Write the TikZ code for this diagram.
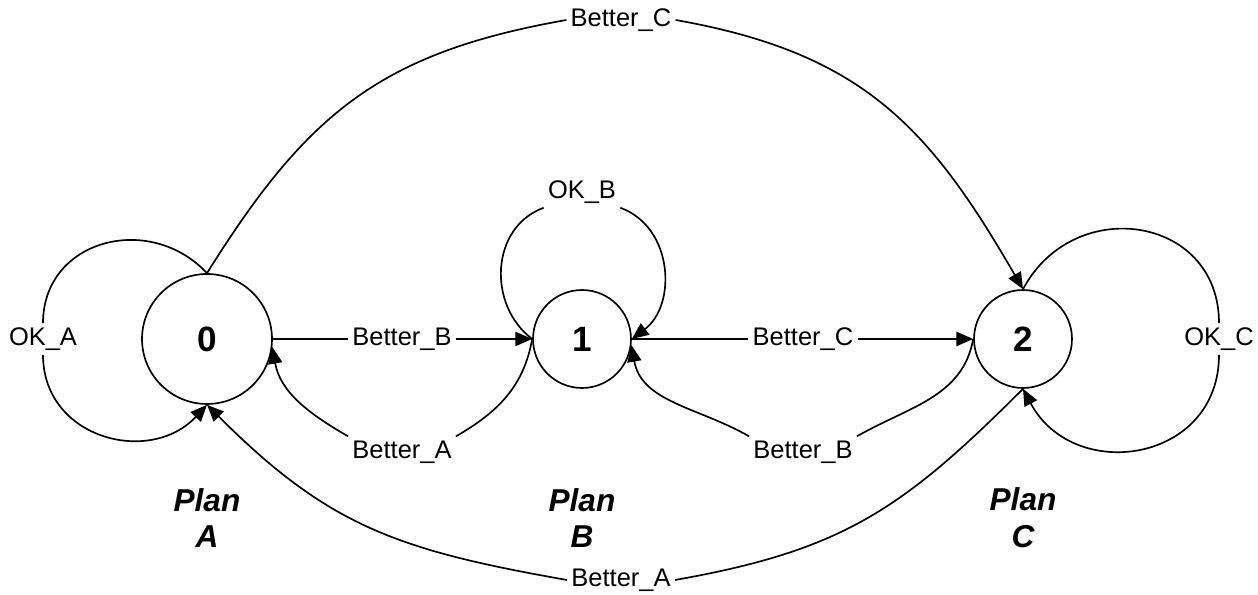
\documentclass[tikz,border=0pt]{standalone}
\usepackage{fontspec}
\setmainfont{Liberation Sans}
\usetikzlibrary{arrows.meta}

\begin{document}
\begin{tikzpicture}[
  x=0.02cm, y=0.02cm,
  line width=0.95pt,
  state/.style={draw, circle, inner sep=0pt, font=\fontsize{20}{22}\selectfont\bfseries},
  lbl/.style={inner sep=2pt, font=\fontsize{14.5}{17}\selectfont},
  plan/.style={align=center, font=\fontsize{18}{21}\selectfont\bfseries\itshape},
  arrow/.style={-{Triangle[length=9.5pt,width=8pt]}}
]
\useasboundingbox (0,0) rectangle (1258,595);

% states
\node[state, minimum size=2.6cm] (s0) at (207,256) {0};
\node[state, minimum size=1.96cm] (s1) at (582,256) {1};
\node[state, minimum size=1.96cm] (s2) at (1023,256) {2};

\node[plan] (planA) at (207,77) {Plan\\A};
\node[plan] (planB) at (582,77) {Plan\\B};
\node[plan] (planC) at (1023,77) {Plan\\C};

% transition labels
\node[lbl] (okA) at (43,256) {OK\_A};
\node[lbl] (okB) at (582,403) {OK\_B};
\node[lbl] (okC) at (1219,256) {OK\_C};
\node[lbl] (b01) at (402,256) {Better\_B};
\node[lbl] (b12) at (803,256) {Better\_C};
\node[lbl] (b10) at (402,143) {Better\_A};
\node[lbl] (b21) at (803,143) {Better\_B};
\node[lbl] (b02) at (621,575) {Better\_C};
\node[lbl] (b20) at (621,15) {Better\_A};

% self loops
\draw[arrow] (s0.north) to[out=133,in=90,looseness=1.25] (okA.north)
  (okA.south) to[out=270,in=227,looseness=1.25] (s0.south);
\draw[arrow] (s1.west) to[out=143,in=200,looseness=1.1] (okB.south west)
  (okB.south east) to[out=-20,in=37,looseness=1.1] (s1.east);
\draw[arrow] (s2.north) to[out=62,in=90,looseness=1.39] (okC.north)
  (okC.south) to[out=270,in=298,looseness=1.39] (s2.south);

% forward
\draw[arrow] (s0.east) -- (b01.west) (b01.east) -- (s1.west);
\draw[arrow] (s1.east) -- (b12.west) (b12.east) -- (s2.west);
\draw[arrow] (s0.north) to[out=58,in=190,looseness=1.1] (b02.west)
  (b02.east) to[out=-10,in=120,looseness=1.1] (s2.north);

% backward
\draw[arrow] (s1.west) to[out=-100,in=30] (b10.north east)
  (b10.north west) to[out=150,in=-80] (s0.-7);
\draw[arrow] (s2.west) to[out=-100,in=30] (b21.north east)
  (b21.north west) to[out=150,in=-80] (s1.-7);
\draw[arrow] (s2.south) to[out=225,in=10,looseness=1.1] (b20.east)
  (b20.west) to[out=170,in=-45,looseness=1.1] (s0.south);
\end{tikzpicture}
\end{document}
